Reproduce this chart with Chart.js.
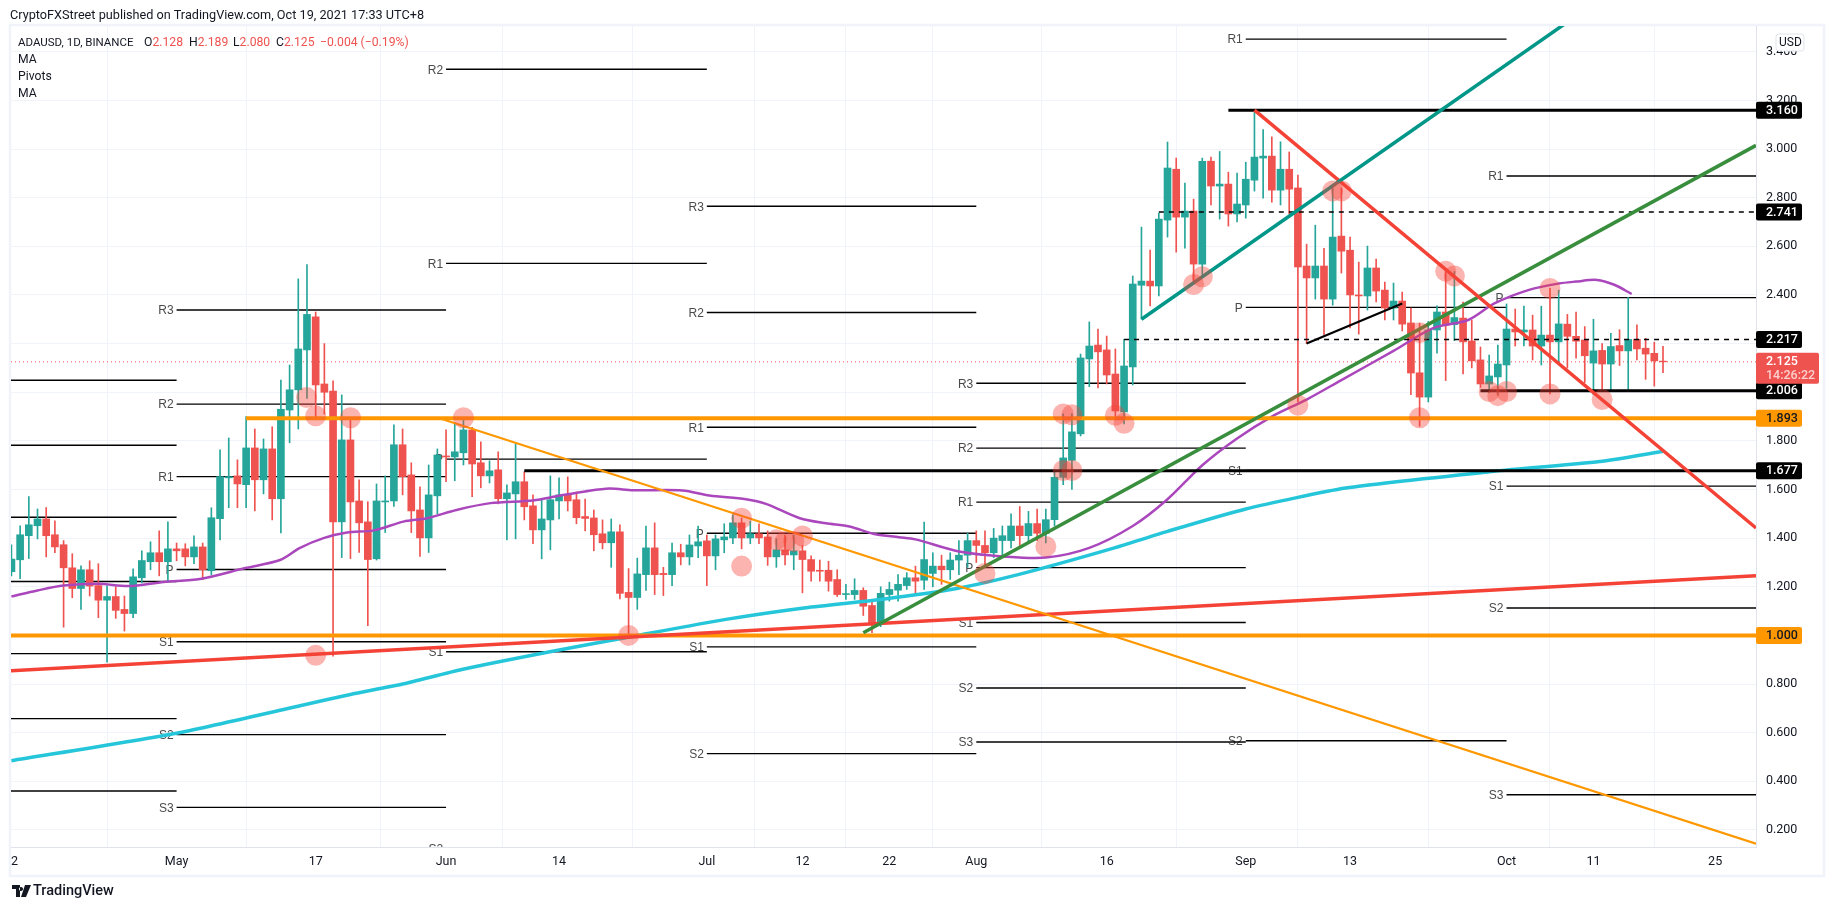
<!DOCTYPE html>
<html>
<head>
<meta charset="utf-8">
<title>ADAUSD</title>
<script src="https://cdn.jsdelivr.net/npm/chart.js@4"></script>
<style>
  html, body { margin: 0; padding: 0; background: #fff; }
  body { width: 1834px; height: 910px; position: relative; overflow: hidden; font-family: Roboto, sans-serif; color: #131722; }
  #wrap { position: absolute; left: 0; top: 0; width: 1834px; height: 910px; }
  .t { position: absolute; white-space: nowrap; font-size: 12.2px; line-height: 16px; }
  .r { color: #ef5350; }
</style>
</head>
<body>
<div id="wrap"><canvas id="chart" width="1834" height="910"></canvas></div>
<div class="t" style="left:10px;top:7px;font-size:12.7px;color:#131722">CryptoFXStreet published on TradingView.com, Oct 19, 2021 17:33 UTC+8</div>
<div class="t" style="left:18px;top:34px;font-size:11.5px">ADAUSD, 1D, BINANCE</div>
<div class="t" style="left:144px;top:34px">O<span class="r">2.128</span></div>
<div class="t" style="left:189px;top:34px">H<span class="r">2.189</span></div>
<div class="t" style="left:233px;top:34px">L<span class="r">2.080</span></div>
<div class="t" style="left:276px;top:34px">C<span class="r">2.125</span></div>
<div class="t r" style="left:320px;top:34px">−0.004 (−0.19%)</div>
<div class="t" style="left:18px;top:51px">MA</div>
<div class="t" style="left:18px;top:68px">Pivots</div>
<div class="t" style="left:18px;top:85px">MA</div>
<svg style="position:absolute;left:12px;top:884px" width="20" height="14" viewBox="0 0 20 14">
  <path d="M0 1h8v12H4V5H0z M9 13l4-12h6l-5 12z M9 3a2 2 0 1 0 .01 0" fill="#131722"/>
</svg>
<div class="t" style="left:33px;top:882px;font-size:14.5px;font-weight:500;line-height:18px">TradingView</div>
<script>
// [day since May 1 2021, open, high, low, close]
const candles = [
  [-19,1.262,1.373,1.245,1.314],[-18,1.311,1.451,1.233,1.414],[-17,1.41,1.571,1.316,1.455],[-16,1.451,1.52,1.397,1.479],
  [-15,1.479,1.526,1.323,1.41],[-14,1.414,1.471,1.34,1.364],[-13,1.373,1.39,1.034,1.278],[-12,1.278,1.336,1.155,1.193],
  [-11,1.193,1.286,1.107,1.27],[-10,1.27,1.307,1.162,1.203],[-9,1.205,1.295,1.073,1.145],[-8,1.145,1.205,0.89,1.16],
  [-7,1.16,1.2,1.07,1.103],[-6,1.107,1.162,1.018,1.09],[-5,1.09,1.274,1.073,1.241],[-4,1.237,1.348,1.216,1.308],
  [-3,1.303,1.385,1.27,1.34],[-2,1.34,1.43,1.245,1.303],[-1,1.303,1.467,1.22,1.356],
  // May
  [0,1.356,1.38,1.307,1.348],[1,1.356,1.377,1.286,1.323],[2,1.323,1.41,1.295,1.364],[3,1.364,1.38,1.229,1.27],
  [4,1.266,1.525,1.249,1.484],[5,1.48,1.763,1.393,1.653],[6,1.648,1.812,1.525,1.653],[7,1.656,1.722,1.525,1.623],
  [8,1.62,1.9,1.525,1.771],[9,1.771,1.849,1.512,1.64],[10,1.64,1.808,1.582,1.767],[11,1.767,1.858,1.475,1.562],
  [12,1.562,2.05,1.422,1.93],[13,1.927,2.112,1.792,2.01],[14,2.01,2.466,1.849,2.178],[15,2.174,2.525,1.975,2.32],
  [16,2.31,2.33,1.893,2.03],[17,2.034,2.2,1.91,2.0],[18,2.005,2.047,0.915,1.467],[19,1.467,1.989,1.32,1.804],
  [20,1.804,1.893,1.316,1.549],[21,1.553,1.64,1.341,1.463],[22,1.467,1.55,1.04,1.312],[23,1.315,1.623,1.31,1.553],
  [24,1.549,1.656,1.423,1.553],[25,1.553,1.866,1.53,1.784],[26,1.784,1.849,1.578,1.653],[27,1.66,1.71,1.423,1.512],
  [28,1.516,1.611,1.325,1.401],[29,1.401,1.701,1.341,1.578],[30,1.574,1.767,1.5,1.742],
  // June
  [31,1.738,1.845,1.632,1.734],[32,1.734,1.87,1.636,1.755],[33,1.751,1.893,1.701,1.845],[34,1.845,1.856,1.571,1.705],
  [35,1.71,1.796,1.607,1.656],[36,1.656,1.718,1.627,1.677],[37,1.681,1.755,1.541,1.562],[38,1.562,1.619,1.393,1.586],
  [39,1.582,1.788,1.397,1.632],[40,1.632,1.673,1.475,1.529],[41,1.533,1.578,1.377,1.434],[42,1.434,1.562,1.315,1.479],
  [43,1.475,1.656,1.352,1.558],[44,1.553,1.648,1.479,1.578],[45,1.578,1.652,1.512,1.553],[46,1.558,1.59,1.459,1.484],
  [47,1.489,1.561,1.43,1.481],[48,1.483,1.516,1.348,1.414],[49,1.418,1.475,1.356,1.381],[50,1.381,1.479,1.28,1.426],
  [51,1.426,1.455,1.15,1.173],[52,1.177,1.275,0.997,1.156],[53,1.156,1.318,1.107,1.253],[54,1.25,1.45,1.185,1.36],
  [55,1.36,1.463,1.168,1.25],[56,1.255,1.28,1.164,1.25],[57,1.25,1.38,1.205,1.34],[58,1.34,1.375,1.29,1.323],
  [59,1.323,1.413,1.29,1.372],[60,1.368,1.45,1.32,1.385],
  // July
  [61,1.389,1.413,1.205,1.327],[62,1.327,1.413,1.27,1.397],[63,1.393,1.459,1.34,1.405],[64,1.401,1.496,1.377,1.463],
  [65,1.463,1.483,1.356,1.401],[66,1.401,1.47,1.377,1.418],[67,1.418,1.459,1.377,1.401],[68,1.405,1.43,1.288,1.323],
  [69,1.323,1.397,1.28,1.352],[70,1.352,1.413,1.29,1.331],[71,1.331,1.413,1.27,1.348],[72,1.348,1.37,1.175,1.312],
  [73,1.312,1.327,1.223,1.264],[74,1.268,1.31,1.223,1.264],[75,1.268,1.305,1.182,1.223],[76,1.23,1.27,1.16,1.168],
  [77,1.168,1.21,1.148,1.172],[78,1.168,1.233,1.148,1.185],[79,1.185,1.196,1.082,1.12],[80,1.123,1.148,1.011,1.052],
  [81,1.052,1.2,1.036,1.173],[82,1.168,1.219,1.141,1.189],[83,1.186,1.25,1.141,1.21],[84,1.205,1.258,1.189,1.237],
  [85,1.237,1.285,1.175,1.223],[86,1.227,1.466,1.189,1.312],[87,1.255,1.34,1.2,1.285],[88,1.285,1.33,1.21,1.27],
  [89,1.27,1.34,1.23,1.31],[90,1.31,1.39,1.25,1.33],[91,1.33,1.42,1.28,1.39],
  // August
  [92,1.39,1.43,1.3,1.37],[93,1.37,1.43,1.29,1.34],[94,1.34,1.44,1.32,1.4],[95,1.39,1.45,1.33,1.41],
  [96,1.39,1.5,1.36,1.45],[97,1.45,1.53,1.37,1.41],[98,1.41,1.51,1.38,1.46],[99,1.46,1.52,1.39,1.42],
  [100,1.42,1.52,1.38,1.476],[101,1.476,1.68,1.45,1.65],[102,1.65,1.911,1.62,1.73],[103,1.72,1.911,1.6,1.837],
  [104,1.829,2.157,1.82,2.141],[105,2.137,2.289,2.023,2.19],[106,2.194,2.26,2.018,2.166],[107,2.174,2.231,2.034,2.071],
  [108,2.075,2.178,1.886,1.923],[109,1.919,2.218,1.87,2.108],[110,2.104,2.478,2.03,2.445],[111,2.44,2.679,2.301,2.457],
  [112,2.457,2.585,2.355,2.437],[113,2.437,2.737,2.396,2.712],[114,2.708,3.029,2.638,2.922],[115,2.917,2.963,2.576,2.72],
  [116,2.72,2.86,2.592,2.745],[117,2.745,2.794,2.448,2.527],[118,2.527,2.963,2.482,2.95],[119,2.95,2.967,2.77,2.848],
  [120,2.848,2.99,2.712,2.856],[121,2.856,2.905,2.683,2.733],[122,2.733,2.901,2.7,2.774],
  // September
  [123,2.77,2.946,2.716,2.876],[124,2.872,3.16,2.827,2.967],[125,2.963,3.08,2.798,2.971],[126,2.971,3.05,2.782,2.831],
  [127,2.831,3.03,2.77,2.917],[128,2.917,2.988,2.733,2.835],[129,2.84,2.893,1.96,2.515],[130,2.519,2.609,2.2,2.47],
  [131,2.47,2.687,2.383,2.519],[132,2.519,2.592,2.235,2.383],[133,2.383,2.84,2.358,2.638],[134,2.642,2.84,2.49,2.58],
  [135,2.584,2.638,2.264,2.4],[136,2.4,2.535,2.239,2.396],[137,2.396,2.601,2.338,2.511],[138,2.511,2.548,2.371,2.416],
  [139,2.42,2.453,2.297,2.346],[140,2.346,2.449,2.297,2.375],[141,2.375,2.412,2.252,2.28],[142,2.285,2.346,1.99,2.079],
  [143,2.08,2.283,1.86,1.98],[144,1.98,2.291,1.96,2.256],[145,2.256,2.355,2.161,2.33],[146,2.33,2.509,2.048,2.276],
  [147,2.278,2.496,2.212,2.307],[148,2.305,2.371,2.075,2.207],[149,2.211,2.297,2.1,2.129],[150,2.133,2.186,2.02,2.034],
  [151,2.034,2.153,1.998,2.067],[152,2.063,2.194,1.989,2.116],
  // October
  [153,2.112,2.363,2.016,2.26],[154,2.26,2.342,2.19,2.248],[155,2.248,2.354,2.19,2.256],[156,2.256,2.317,2.133,2.19],
  [157,2.19,2.354,2.112,2.235],[158,2.235,2.427,1.993,2.207],[159,2.207,2.42,2.12,2.281],[160,2.28,2.32,2.1,2.23],
  [161,2.23,2.33,2.14,2.21],[162,2.215,2.27,2.04,2.15],[163,2.12,2.3,1.99,2.17],[164,2.172,2.2,2.009,2.116],
  [165,2.116,2.242,2.009,2.188],[166,2.192,2.257,2.11,2.17],[167,2.17,2.39,2.012,2.217],[168,2.217,2.277,2.133,2.178],
  [169,2.181,2.222,2.053,2.157],[170,2.16,2.206,2.025,2.129],[171,2.128,2.189,2.08,2.125],
];

const purpleMa = [
  [-19,1.16],[-16,1.185],[-13,1.205],[-9,1.212],[-5.5,1.203],[-1.5,1.22],[2.7,1.232],[7.9,1.277],[11.9,1.31],[14.2,1.36],
  [16.9,1.4],[19.6,1.423],[22.7,1.432],[26.1,1.468],[28.8,1.482],[32.2,1.516],[36.1,1.544],[41,1.555],[44,1.574],[47,1.592],
  [49.8,1.604],[52.5,1.597],[58.2,1.596],[61.3,1.575],[65.5,1.56],[67.8,1.541],[71.7,1.482],[74.7,1.461],[77.4,1.448],
  [80.4,1.416],[83.1,1.404],[85,1.395],[90,1.345],[95,1.325],[100,1.32],[105,1.36],[110,1.45],[114,1.56],[118,1.7],
  [122,1.81],[126,1.9],[130,1.97],[134,2.05],[140,2.17],[144.5,2.263],[148.6,2.297],[151.6,2.365],[155.5,2.42],[159,2.447],
  [161,2.455],[163.4,2.462],[165.4,2.442],[167.4,2.404],
];
const cyanMa = [
  [-19,0.485],[0,0.598],[14.2,0.711],[20,0.757],[26,0.8],[32.8,0.86],[43.4,0.936],[52.6,0.997],[63.2,1.066],[72.4,1.114],
  [81,1.148],[89.6,1.192],[96.8,1.25],[107.5,1.356],[114,1.428],[123,1.52],[134.5,1.606],[151,1.673],[163.7,1.715],[171,1.757],
];

// [from, to, value, colour, width, dash]
const LEFT = -19.05, RIGHT = 181.7;
const userLines = [
  [121,RIGHT,3.16,"#000",3,[]],
  [113,RIGHT,2.741,"#000",1.4,[5,5]],
  [109,RIGHT,2.217,"#000",1.4,[5,5]],
  [150,RIGHT,2.006,"#000",3,[]],
  [8,RIGHT,1.893,"#ff9800",4,[]],
  [40,RIGHT,1.677,"#000",3,[]],
  [LEFT,RIGHT,1.0,"#ff9800",4,[]],
];
// [x1, y1, x2, y2, colour, width]
const trendLines = [
  [111,2.3,162,3.572,"#009688",3.5],
  [124,3.16,RIGHT,1.442,"#f44336",3.5],
  [79,1.011,RIGHT,3.015,"#388e3c",3.5],
  [30.6,1.889,RIGHT,0.144,"#ff9800",2.2],
  [LEFT,0.855,RIGHT,1.245,"#f44336",3.5],
  [130,2.2,141,2.365,"#000",2.2],
];
const circles = [
  [14.95,1.978],[16,1.903],[20,1.895],[16,0.918],[33,1.895],[52,1.0],[65,1.482],[65,1.285],[69,1.393],[70,1.386],[71,1.386],
  [72,1.409],[93,1.255],[100,1.366],[102,1.911],[103,1.907],[102,1.678],[103,1.678],[108,1.905],[109,1.872],[117,2.443],
  [118,2.475],[129,1.947],[133,2.828],[134,2.828],[143,2.245],[143,1.895],[146,2.498],[147,2.478],[151,2.003],[152,1.986],
  [153,2.003],[158,1.993],[158,2.427],[164,1.97],
];
const pivots = [
  { from: LEFT, to: 0, rows: [["",2.049],["",1.782],["",1.486],["",1.222],["",0.925],["",0.658],["",0.36]] },
  { from: 0, to: 31, rows: [["R3",2.338],["R2",1.951],["R1",1.653],["P",1.271],["S1",0.974],["S2",0.592],["S3",0.293]] },
  { from: 31, to: 61, rows: [["R2",3.328],["R1",2.53],["P",1.725],["S1",0.933],["S2",0.125]] },
  { from: 61, to: 92, rows: [["R3",2.765],["R2",2.328],["R1",1.856],["P",1.42],["S1",0.953],["S2",0.514]] },
  { from: 92, to: 123, rows: [["R3",2.037],["R2",1.77],["R1",1.548],["P",1.279],["S1",1.053],["S2",0.784],["S3",0.562]] },
  { from: 123, to: 153, rows: [["R1",3.452],["P",2.349],["S1",1.678],["S2",0.567]] },
  { from: 153, to: RIGHT, rows: [["R1",2.889],["P",2.389],["S1",1.614],["S2",1.113],["S3",0.345]] },
];
const axisTags = [
  ["3.160",3.16,"#000","#fff"],["2.741",2.741,"#000","#fff"],["2.217",2.217,"#000","#fff"],["2.006",2.006,"#000","#fff"],
  ["1.893",1.893,"#ff9800","#131722"],["1.677",1.677,"#000","#fff"],["1.000",1.0,"#ff9800","#131722"],
];
const timeLabels = {0:"May",16:"17",31:"Jun",44:"14",61:"Jul",72:"12",82:"22",92:"Aug",107:"16",123:"Sep",135:"13",153:"Oct",163:"11",177:"25"};

const UP = "#26a69a", DOWN = "#ef5350", GRID = "#f0f3fa";
const candleColor = (c) => (c[4] >= c[1] ? UP : DOWN);

function lineSet(points, color, width, order, dash, tension) {
  return {
    type: "line",
    data: points.map((p) => ({ x: p[0], y: p[1] })),
    borderColor: color,
    borderWidth: width,
    borderDash: dash || [],
    pointRadius: 0,
    tension: tension || 0,
    order: order,
  };
}

const datasets = [];
// wicks and bodies share one bar slot per day
datasets.push({
  type: "bar", grouped: false, barThickness: 1, order: 11,
  data: candles.map((c) => ({ x: c[0], y: [c[3], c[2]] })),
  backgroundColor: candles.map(candleColor),
});
datasets.push({
  type: "bar", grouped: false, barThickness: 7, order: 10,
  data: candles.map((c) => ({ x: c[0], y: [c[1], c[4]] })),
  backgroundColor: candles.map(candleColor),
});
pivots.forEach((p) => {
  p.rows.forEach((r) => {
    datasets.push(lineSet([[p.from, r[1]], [p.to, r[1]]], "#000", 1.4, 20));
  });
});
datasets.push(lineSet([[LEFT, 2.125], [RIGHT, 2.125]], DOWN, 1, 15, [1, 3]));
datasets.push(lineSet(purpleMa, "#ab47bc", 2.5, 5, [], 0.3));
datasets.push(lineSet(cyanMa, "#26c6da", 3.5, 5, [], 0.2));
userLines.forEach((l) => {
  datasets.push(lineSet([[l[0], l[2]], [l[1], l[2]]], l[3], l[4], 3, l[5]));
});
trendLines.forEach((l) => {
  datasets.push(lineSet([[l[0], l[1]], [l[2], l[3]]], l[4], l[5], 2));
});
datasets.push({
  type: "scatter",
  data: circles.map((c) => ({ x: c[0], y: c[1] })),
  backgroundColor: "rgba(244,67,54,0.4)",
  borderWidth: 0,
  pointRadius: 10.5,
  order: 1,
});

const chromePlugin = {
  id: "chrome",
  beforeDraw(chart) {
    const ctx = chart.ctx;
    ctx.save();
    ctx.strokeStyle = GRID;
    ctx.lineWidth = 2.5;
    ctx.strokeRect(10, 25, 1814, 851);
    ctx.restore();
  },
  beforeDatasetsDraw(chart) {
    // pivot names sit under the candles
    const { ctx, chartArea, scales } = chart;
    ctx.save();
    ctx.beginPath();
    ctx.rect(chartArea.left, chartArea.top, chartArea.width, chartArea.height);
    ctx.clip();
    ctx.font = '12px "Liberation Sans"';
    ctx.fillStyle = "#4a4a4a";
    ctx.textAlign = "right";
    ctx.textBaseline = "middle";
    pivots.forEach((p) => {
      p.rows.forEach((r) => {
        if (r[0]) ctx.fillText(r[0], scales.x.getPixelForValue(p.from) - 3, scales.y.getPixelForValue(r[1]) + 1);
      });
    });
    ctx.restore();
  },
  afterDraw(chart) {
    const { ctx, scales } = chart;
    ctx.save();
    ctx.font = '500 12.5px Roboto';
    ctx.textBaseline = "middle";
    ctx.textAlign = "left";
    axisTags.forEach((t) => {
      const y = scales.y.getPixelForValue(t[1]);
      ctx.fillStyle = t[2];
      ctx.beginPath();
      ctx.roundRect(1756, y - 8.5, 46, 17, 2);
      ctx.fill();
      ctx.fillStyle = t[3];
      ctx.fillText(t[0], 1766, y + 0.5);
    });
    // last price tag with the bar countdown
    const py = scales.y.getPixelForValue(2.125);
    ctx.fillStyle = DOWN;
    ctx.beginPath();
    ctx.roundRect(1756, py - 9, 63, 31, 2);
    ctx.fill();
    ctx.fillStyle = "#fff";
    ctx.fillText("2.125", 1766, py);
    ctx.fillStyle = "#fbd0ce";
    ctx.fillText("14:26:22", 1766, py + 14);
    // currency button
    ctx.fillStyle = "#fff";
    ctx.strokeStyle = "#e0e3eb";
    ctx.beginPath();
    ctx.roundRect(1776, 34, 28, 17, 3);
    ctx.fill();
    ctx.stroke();
    ctx.fillStyle = "#131722";
    ctx.font = '12px Roboto';
    ctx.fillText("USD", 1779, 43);
    // first date label is cut off by the pane edge
    ctx.font = '12.5px Roboto';
    ctx.fillText("2", 11, 862);
    ctx.restore();
  },
};

new Chart(document.getElementById("chart"), {
  type: "bar",
  data: { datasets },
  plugins: [chromePlugin],
  options: {
    responsive: false,
    animation: false,
    events: [],
    layout: { padding: { left: 11, right: 11, top: 26, bottom: 35 } },
    plugins: { legend: { display: false }, tooltip: { enabled: false } },
    scales: {
      x: {
        type: "linear",
        offset: false,
        min: LEFT,
        max: RIGHT,
        grid: { color: GRID, drawTicks: false, lineWidth: 1 },
        border: { color: "#e0e3eb" },
        afterFit: (scale) => { scale.height = 28; },
        afterBuildTicks: (scale) => {
          scale.ticks = Object.keys(timeLabels).map((k) => ({ value: Number(k) }));
        },
        ticks: {
          autoSkip: false,
          maxRotation: 0,
          padding: 7,
          color: "#131722",
          font: { family: "Roboto", size: 12.5 },
          callback: (v) => timeLabels[v],
        },
      },
      y: {
        position: "right",
        min: 0.13,
        max: 3.506,
        grid: { color: GRID, drawTicks: false, lineWidth: 1 },
        border: { color: "#e0e3eb" },
        afterFit: (scale) => { scale.width = 67; },
        ticks: {
          stepSize: 0.2,
          includeBounds: false,
          padding: 10,
          color: "#131722",
          font: { family: "Roboto", size: 12.5 },
          callback: (v) => v.toFixed(3),
        },
      },
    },
  },
});
</script>
</body>
</html>
